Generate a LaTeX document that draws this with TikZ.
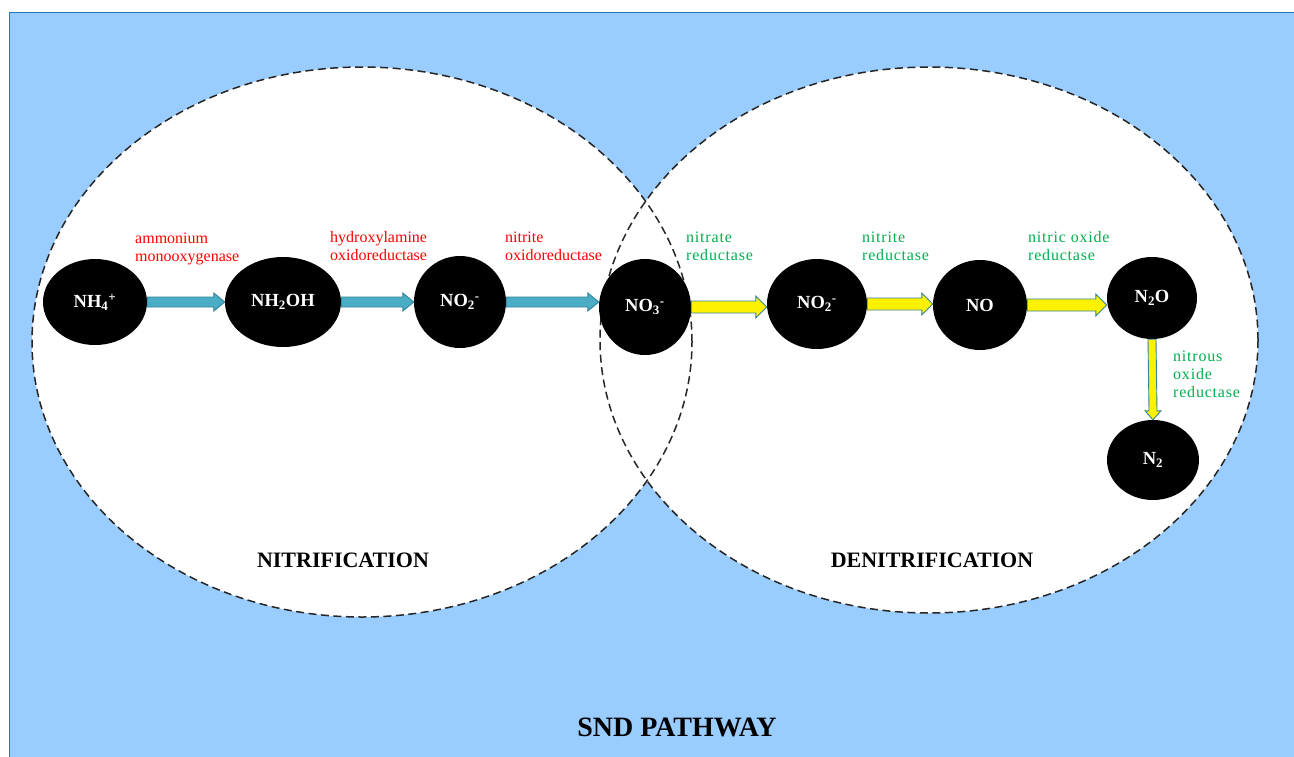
\documentclass[tikz,border=0pt]{standalone}
\usepackage{fontspec}
\setmainfont{Liberation Serif}
\newfontfamily\widefont[LetterSpace=5]{Liberation Serif}
\usetikzlibrary{calc, positioning, shapes.geometric}

\definecolor{skyfill}{HTML}{99CCFF}
\definecolor{frameblue}{HTML}{2E75B6}
\definecolor{tealfill}{HTML}{4BACC6}
\definecolor{tealline}{HTML}{31859C}
\definecolor{enzred}{HTML}{FF0000}
\definecolor{enzgreen}{HTML}{00B050}

% block arrow, left to right: fill, half shaft, half head, from node, to node
\newcommand{\rflux}[5]{%
  \draw[tealline, fill=#1, line width=0.9pt, line join=miter]
    ($(#4.east)+(0,-#2)$) -- ($(#5.west |- #4.east)+(-11,-#2)$) -- ($(#5.west |- #4.east)+(-11,-#3)$)
    -- (#5.west |- #4.east) -- ($(#5.west |- #4.east)+(-11,#3)$) -- ($(#5.west |- #4.east)+(-11,#2)$)
    -- ($(#4.east)+(0,#2)$) -- cycle;}
% block arrow, top to bottom
\newcommand{\dflux}[3]{%
  \draw[tealline, fill=#1, line width=0.9pt, line join=miter]
    ($(#2.south)+(-4,0)$) -- ($(#3.north)+(-4,-9)$) -- ++(-4,0)
    -- (#3.north) -- ++(8,-9) -- ++(-4,0) -- ($(#2.south)+(4,0)$) -- cycle;}

\begin{document}
\begin{tikzpicture}[
  x=1pt, y=-1pt,
  zone/.style={fill=white},
  rim/.style={draw=black!85, line width=1.5pt, dash pattern=on 8pt off 4.5pt},
  species/.style={ellipse, fill=black, text=white, inner sep=0pt,
    font=\fontsize{18.5}{21}\selectfont\bfseries},
  oxid/.style={anchor=west, inner sep=0pt, align=left, text=enzred,
    font=\fontsize{16}{18}\selectfont},
  reduc/.style={anchor=west, inner sep=0pt, align=left, text=enzgreen,
    font=\fontsize{16}{18}\selectfont\widefont},
  process/.style={font=\fontsize{22}{25}\selectfont\bfseries},
]
  \clip (0,0) rectangle (1294,756);
  \draw[frameblue, fill=skyfill, line width=1pt] (9.5,12.5) rectangle (1320,780);

  % the two zones
  \fill[zone] (362,342) ellipse [x radius=330pt, y radius=275pt];
  \fill[zone] (929,340) ellipse [x radius=329pt, y radius=273pt];
  \draw[rim] (362,342) ellipse [x radius=330pt, y radius=275pt];
  \draw[rim] (929,340) ellipse [x radius=329pt, y radius=273pt];

  % species
  \node[species, minimum width=104pt, minimum height=86pt] (nh4) at (95,302) {NH\textsubscript{4}\textsuperscript{+}};
  \node[species, minimum width=116pt, minimum height=90pt] (nh2oh) at (283,302) {NH\textsubscript{2}OH};
  \node[species, minimum width=92pt, minimum height=92pt] (nitrite) at (460,302) {NO\textsubscript{2}\textsuperscript{-}};
  \node[species, minimum width=92pt, minimum height=96pt] (nitrate) at (645,307) {NO\textsubscript{3}\textsuperscript{-}};
  \node[species, minimum width=100pt, minimum height=90pt] (nitrite2) at (817,304) {NO\textsubscript{2}\textsuperscript{-}};
  \node[species, minimum width=94pt, minimum height=90pt] (no) at (980,305) {NO};
  \node[species, minimum width=90pt, minimum height=82pt] (n2o) at (1152,298) {N\textsubscript{2}O};
  \node[species, minimum width=92pt, minimum height=80pt] (n2) at (1153,460) {N\textsubscript{2}};

  % fluxes
  \rflux{tealfill}{5}{9}{nh4}{nh2oh}
  \rflux{tealfill}{5}{9}{nh2oh}{nitrite}
  \rflux{tealfill}{5}{9}{nitrite}{nitrate}
  \rflux{yellow}{6}{11}{nitrate}{nitrite2}
  \rflux{yellow}{6}{11}{nitrite2}{no}
  \rflux{yellow}{6}{11}{no}{n2o}
  \dflux{yellow}{n2o}{n2}

  % enzymes
  \node[oxid] (amo) at (135,249) {ammonium\\monooxygenase};
  \node[oxid] (hao) at (330,246) {hydroxylamine\\oxidoreductase};
  \node[oxid] (nxr) at (505,246) {nitrite\\oxidoreductase};
  \node[reduc] (nar) at (686,246) {nitrate\\reductase};
  \node[reduc] (nir) at (862,246) {nitrite\\reductase};
  \node[reduc] (nor) at (1028,246) {nitric oxide\\reductase};
  \node[reduc] (nos) at (1173,374) {nitrous\\oxide\\reductase};

  % titles
  \node[process] (nitri) at (343,560) {NITRIFICATION};
  \node[process] (denitri) at (932,560) {DENITRIFICATION};
  \node[font=\fontsize{28}{31}\selectfont\bfseries] (snd) at (677,727) {SND PATHWAY};
\end{tikzpicture}
\end{document}
